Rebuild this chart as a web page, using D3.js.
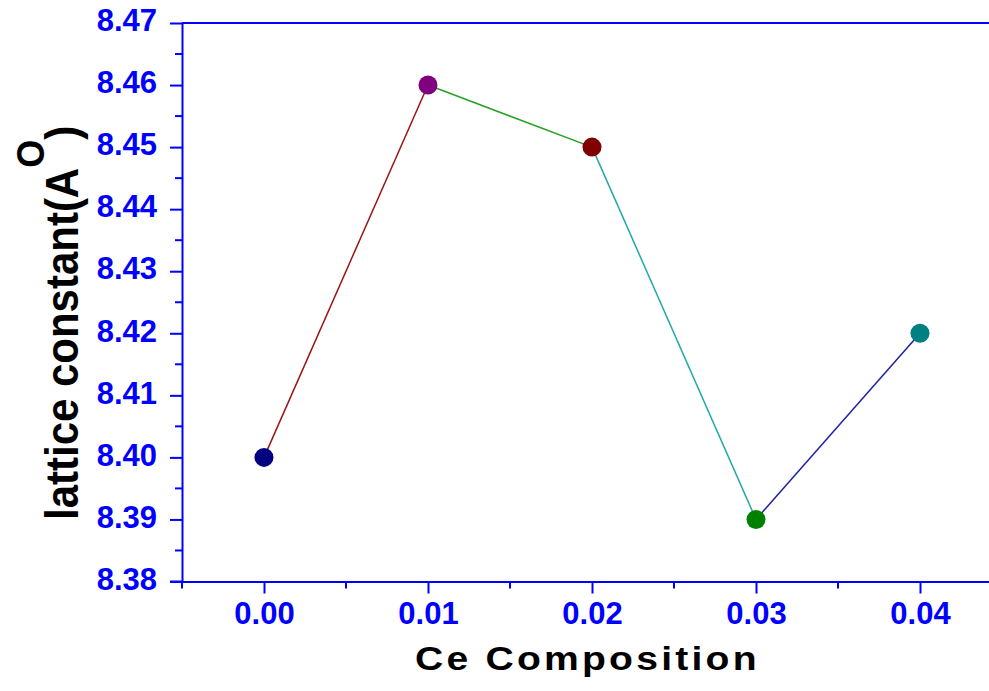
<!DOCTYPE html>
<html>
<head>
<meta charset="utf-8">
<script src="https://cdn.jsdelivr.net/npm/d3@7"></script>
<style>
  body { margin: 0; background: #fff; }
  text { font-family: "Liberation Sans", Arial, sans-serif; font-weight: bold; }
</style>
</head>
<body>
<div id="chart"></div>
<script>
// data
const composition = [0.00, 0.01, 0.02, 0.03, 0.04]
const latticeConst = [8.40, 8.46, 8.45, 8.39, 8.42]
const pointColors = ['#000080', '#800080', '#800000', '#008000', '#008080']
const segmentColors = ['#991515', '#28a028', '#20a8a8', '#2020a0']
const xTicks = [0.00, 0.01, 0.02, 0.03, 0.04]
const yTicks = [8.38, 8.39, 8.40, 8.41, 8.42, 8.43, 8.44, 8.45, 8.46, 8.47]

const W = 989, H = 691
const axisBlue = '#0000ff'

const svg = d3.select('#chart')
  .append('svg')
  .attr('width', W)
  .attr('height', H)

// plot box: right side runs off the picture
const x = d3.scaleLinear().domain([-0.005, 0.045]).range([182, 1002])
const y = d3.scaleLinear().domain([8.38, 8.47]).range([581.5, 23])

// minor ticks at the half steps
const xMinor = d3.range(-0.005, 0.046, 0.01)
const yMinor = d3.range(8.385, 8.47, 0.01)

// top border
svg.append('line')
  .attr('x1', x(-0.005)).attr('x2', x(0.045))
  .attr('y1', y(8.47)).attr('y2', y(8.47))
  .attr('stroke', axisBlue).attr('stroke-width', 2)

// y axis
const yAxis = svg.append('g')
  .attr('transform', `translate(${x(-0.005)},0)`)
  .call(d3.axisLeft(y).tickValues(yTicks).tickSize(12).tickSizeOuter(0).tickPadding(13).tickFormat(d3.format('.2f')))
yAxis.append('g')
  .selectAll('line')
  .data(yMinor)
  .join('line')
  .attr('x1', -7).attr('x2', 0)
  .attr('y1', d => y(d)).attr('y2', d => y(d))
yAxis.selectAll('.tick text').attr('dy', '0.25em')

// x axis
const xAxis = svg.append('g')
  .attr('transform', `translate(0,${y(8.38)})`)
  .call(d3.axisBottom(x).tickValues(xTicks).tickSize(12).tickSizeOuter(0).tickPadding(8.5).tickFormat(d3.format('.2f')))
xAxis.append('g')
  .selectAll('line')
  .data(xMinor)
  .join('line')
  .attr('y1', 0).attr('y2', 7)
  .attr('x1', d => x(d)).attr('x2', d => x(d))

// the tick at 8.38 reaches left of the axis
xAxis.append('line')
  .attr('x1', x(-0.005) - 12).attr('x2', x(-0.005))
  .attr('y1', 0).attr('y2', 0)

svg.selectAll('.domain, .tick line, g > g > line, g > line')
  .attr('stroke', axisBlue)
  .attr('stroke-width', 2)
svg.selectAll('.tick text')
  .attr('fill', axisBlue)
  .style('font-size', '31px')
  .style('font-weight', 'bold')
  .style('font-family', '"Liberation Sans", Arial, sans-serif')

// line segments, each its own colour
const segs = d3.range(composition.length - 1).map(i => ({
  x1: composition[i], y1: latticeConst[i],
  x2: composition[i + 1], y2: latticeConst[i + 1],
  c: segmentColors[i]
}))
svg.append('g')
  .selectAll('line')
  .data(segs)
  .join('line')
  .attr('x1', d => x(d.x1)).attr('y1', d => y(d.y1))
  .attr('x2', d => x(d.x2)).attr('y2', d => y(d.y2))
  .attr('stroke', d => d.c)
  .attr('stroke-width', 1.5)

svg.append('g')
  .selectAll('circle')
  .data(composition)
  .join('circle')
  .attr('cx', d => x(d))
  .attr('cy', (d, i) => y(latticeConst[i]))
  .attr('r', 9.5)
  .attr('fill', (d, i) => pointColors[i])

// axis titles (the original font is drawn wide)
svg.append('text')
  .attr('transform', 'translate(415,670) scale(1.15,1)')
  .attr('fill', '#000')
  .style('font-size', '34px')
  .style('letter-spacing', '2.8px')
  .text('Ce Composition')

const yt = svg.append('text')
  .attr('transform', 'translate(78,520) rotate(-90) scale(1,1.1)')
  .attr('fill', '#000')
  .style('font-size', '42px')
yt.append('tspan').text('lattice constant(A')
yt.append('tspan').attr('dy', -31).style('font-size', '36px').text('O')
yt.append('tspan').attr('dy', 31).text(')')
</script>
</body>
</html>
